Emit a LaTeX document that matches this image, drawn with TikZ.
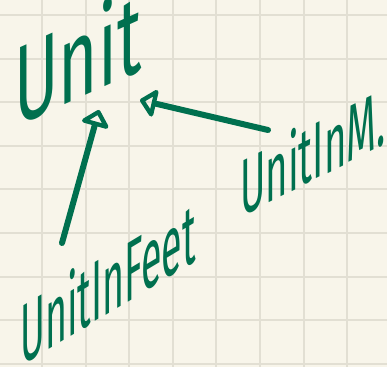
\documentclass[tikz,border=0pt]{standalone}
\usepackage{fontspec}
\newfontfamily\handfont{Fira Sans}
\usetikzlibrary{arrows.meta}

\definecolor{paper}{HTML}{F8F5EA}
\definecolor{gridline}{HTML}{E2DFD3}
\definecolor{ink}{HTML}{00704F}

\begin{document}
\begin{tikzpicture}[x=0.75pt,y=-0.75pt,
  hand/.style={text=ink,inner sep=0pt,anchor=center},
  isa/.style={draw=ink,line width=4.5pt,line cap=round,line join=round,
    -{Triangle[open,round,length=13pt,width=24pt]}}]

  % squared paper
  \path[use as bounding box,fill=paper] (0,0) rectangle (387,367);
  \foreach \k in {0,...,7}
    \draw[gridline,line width=1.5pt] ({42+43.6*\k},0) -- ({42+43.6*\k},367);
  \foreach \k in {0,...,8}
    \draw[gridline,line width=1.5pt] (0,{15+43.6*\k}) -- (387,{15+43.6*\k});

  % class names
  \node(unit)  [hand,yslant=0.45,xscale=0.6,font=\handfont\fontsize{84pt}{84pt}\selectfont]
    at (78,56) {Unit};
  \node(feet)  [hand,yslant=0.6,xscale=0.44,font=\handfont\fontsize{64pt}{64pt}\selectfont]
    at (108,281) {UnitInFeet};
  \node(meters)[hand,yslant=0.5,xscale=0.48,font=\handfont\fontsize{60pt}{60pt}\selectfont]
    at (313,150) {UnitInM.};

  % subclass -> Unit arrows
  \draw[isa] ([shift={(-46,-38)}]feet.center) -- ([shift={(21,54)}]unit.center);
  \draw[isa] ([shift={(-45,-20)}]meters.center) -- ([shift={(62,44)}]unit.center);
\end{tikzpicture}
\end{document}
